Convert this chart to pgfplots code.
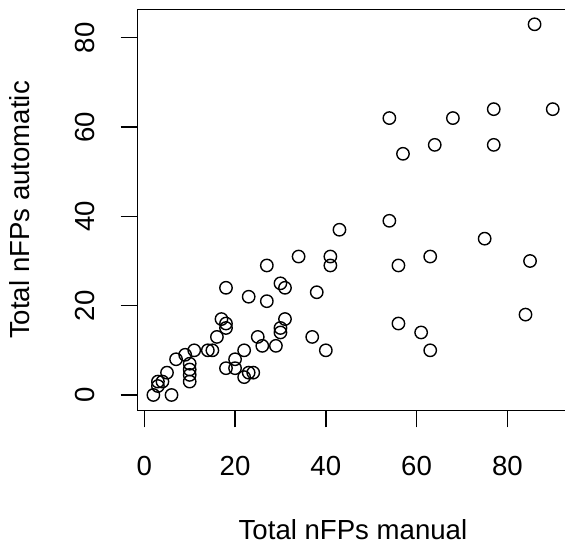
\documentclass[border=0pt]{standalone}
\usepackage{fontspec}
\setmainfont{Liberation Sans}
\usepackage{pgfplots}
\pgfplotsset{compat=1.18}
\pgfplotstableread{
x y
86 83
90 64
77 64
54 62
68 62
64 56
77 56
57 54
54 39
43 37
75 35
34 31
41 31
41 29
63 31
56 29
85 30
27 29
18 24
30 25
31 24
38 23
23 22
27 21
84 18
56 16
61 14
63 10
17 17
18 16
18 15
31 17
30 15
30 14
16 13
25 13
37 13
26 11
29 11
40 10
14 10
15 10
11 10
9 9
7 8
10 7
10 5.7
10 4.5
10 3
5 5
3 3
3 2
4 3
2 0
6 0
22 10
20 8
18 6
20 6
22 4
23 5
24 5
}\datatable
\begin{document}
\begin{tikzpicture}
\useasboundingbox (0,0) rectangle (282.5pt,272pt);
\clip (0,0) rectangle (282.5pt,272pt);
\begin{axis}[
  at={(68.65pt,66.65pt)}, anchor=south west,
  scale only axis, width=215.65pt, height=200.7pt,
  xmin=-1.543, xmax=93.5, ymin=-3.52, ymax=86.36,
  xtick={0,20,40,60,80}, ytick={0,20,40,60,80},
  tick pos=left, tick align=outside, major tick length=8.3pt,
  axis line style={line width=0.75pt},
  every tick/.style={black, line width=0.75pt},
  /pgf/number format/assume math mode=true,
  tick label style={font=\fontsize{13.8}{16}\selectfont, inner sep=0pt},
  xticklabel style={anchor=north},
  yticklabel style={rotate=90, anchor=south},
  xticklabel shift=14.35pt,
  yticklabel shift=13pt,
  label style={font=\fontsize{13.8}{16}\selectfont, inner sep=0pt},
  xlabel={Total nFPs manual},
  ylabel={Total nFPs automatic},
  xlabel style={at={(axis description cs:0.5,-0.3204)}, anchor=base},
  ylabel style={at={(axis description cs:-0.2511,0.5)}, anchor=base},
]
\addplot[only marks, mark=o, mark size=3.1pt, mark options={line width=0.7pt, black}] table[x=x, y=y] {\datatable};
\end{axis}
\end{tikzpicture}
\end{document}
